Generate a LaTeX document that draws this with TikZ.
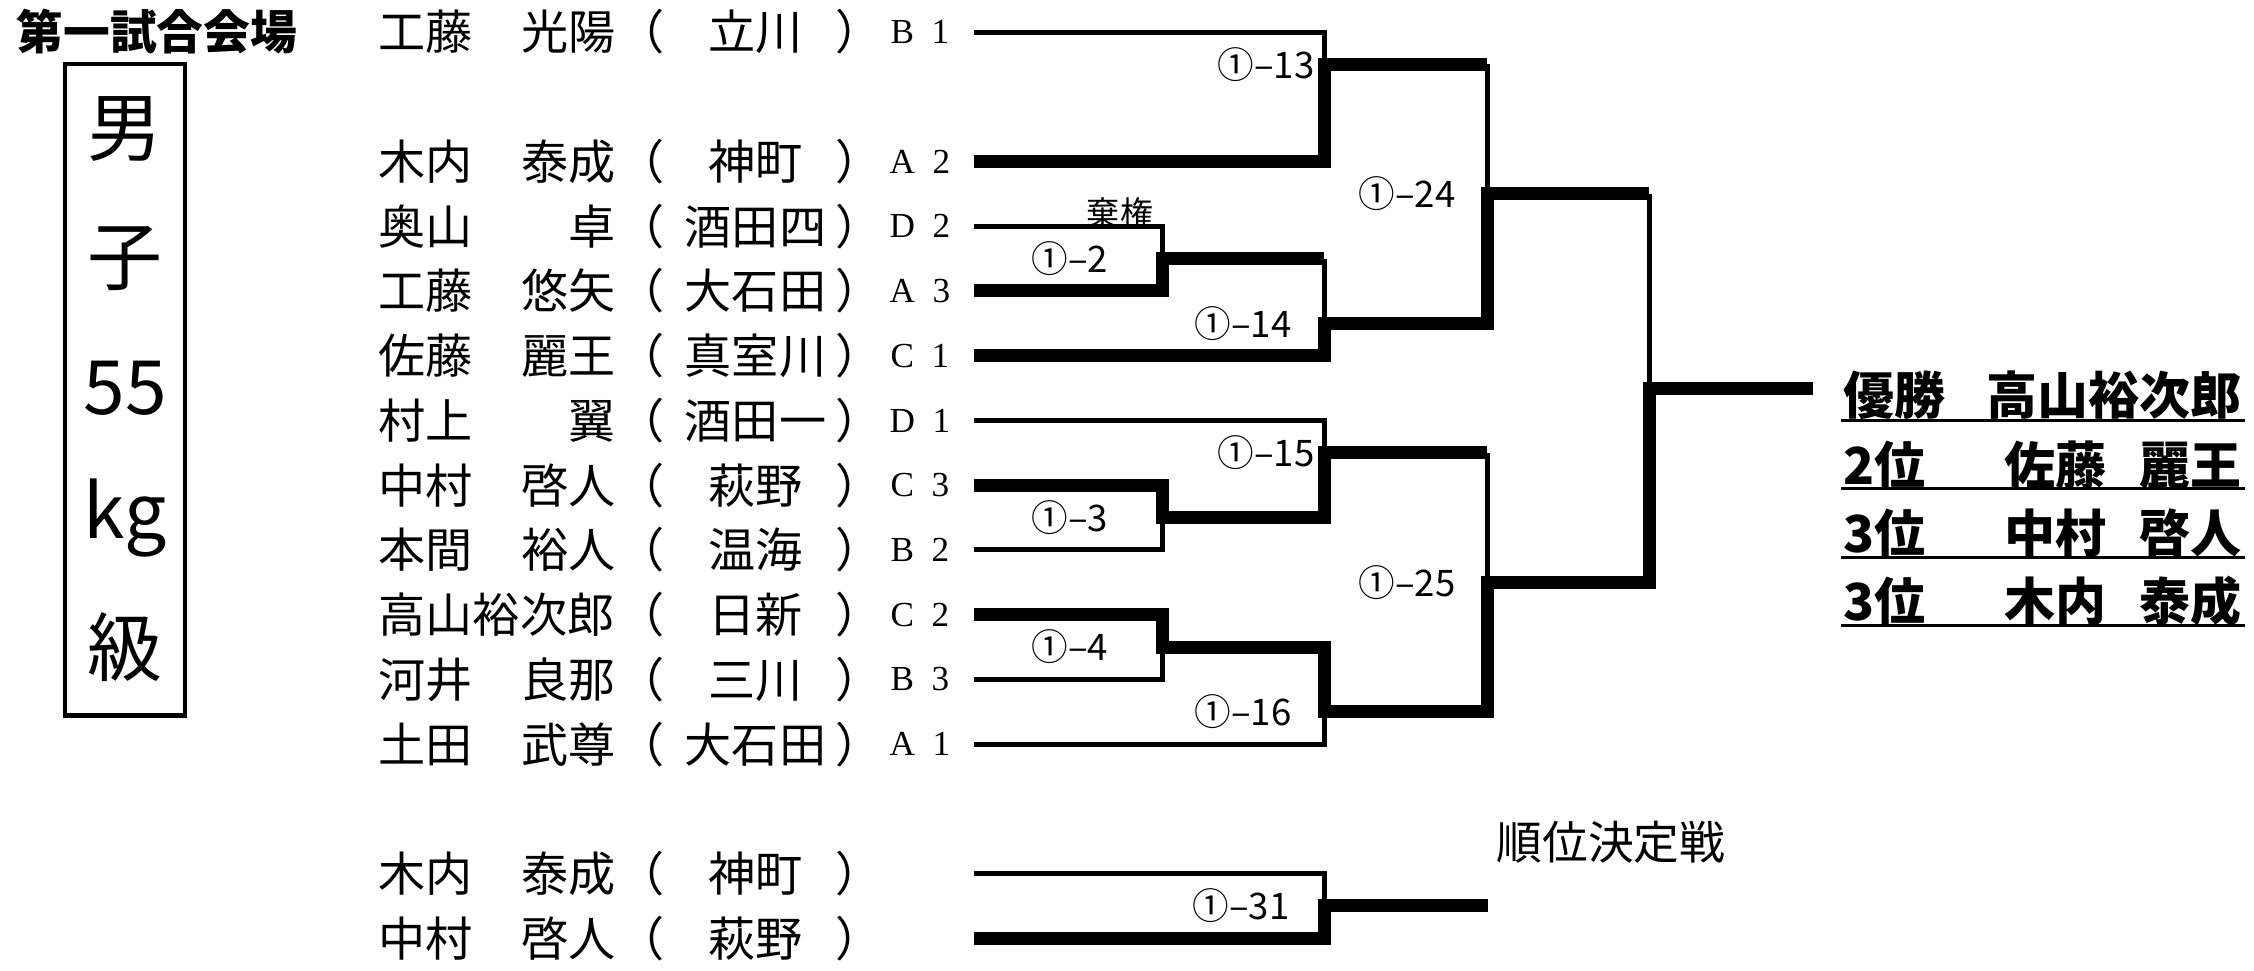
\documentclass[tikz,border=0pt]{standalone}
\usepackage{fontspec}
\setmainfont{Noto Sans CJK JP}
\newfontfamily\seedfont{Liberation Serif}

\begin{document}
\begin{tikzpicture}[x=0.01cm, y=-0.647cm,
  win/.style={line width=0.13cm},
  lose/.style={line width=0.05cm},
  nm/.style={inner sep=0pt, font=\fontsize{13.4pt}{16pt}\selectfont},
  seed/.style={inner sep=0pt, font=\seedfont\fontsize{10pt}{12pt}\selectfont},
  lbl/.style={inner sep=0pt, font=\fontsize{10.4pt}{12pt}\selectfont},
  ttl/.style={inner sep=0pt, font=\bfseries\fontsize{13.3pt}{16pt}\selectfont},
  big/.style={inner sep=0pt, font=\fontsize{21.3pt}{24pt}\selectfont},
  res/.style={inner sep=0pt, font=\bfseries\fontsize{14.5pt}{17pt}\selectfont}]

  \useasboundingbox (0,-0.4946) rectangle (2254,14.498);

  % venue and class
  \node[ttl] (venue) at (157,0) {第一試合会場};
  \draw[line width=0.045cm] (65,0.4946) rectangle (185,10.556);
  \node[big] (cls1) at (125,1.5) {男};
  \node[big] (cls2) at (125,3.5) {子};
  \node[big] (cls3) at (125,5.5) {55};
  \node[big] (cls4) at (125,7.5) {kg};
  \node[big] (cls5) at (125,9.5) {級};

  % entries
  \node[nm, anchor=west] (n1) at (378,0) {\makebox[2.37cm][l]{工藤\hfill 光陽}};
  \node[nm] (s1) at (750,0) {（\hspace{0.11cm}\makebox[1.59cm]{立川}）};
  \node[seed] (k1) at (920,0) {B\enspace 1};
  \node[nm, anchor=west] (n2) at (378,2) {\makebox[2.37cm][l]{木内\hfill 泰成}};
  \node[nm] (s2) at (750,2) {（\hspace{0.11cm}\makebox[1.59cm]{神町}）};
  \node[seed] (k2) at (920,2) {A\enspace 2};
  \node[nm, anchor=west] (n3) at (378,3) {\makebox[2.37cm][l]{奥山\hfill 卓}};
  \node[nm] (s3) at (750,3) {（\hspace{0.11cm}\makebox[1.59cm]{酒田四}）};
  \node[seed] (k3) at (920,3) {D\enspace 2};
  \node[nm, anchor=west] (n4) at (378,4) {\makebox[2.37cm][l]{工藤\hfill 悠矢}};
  \node[nm] (s4) at (750,4) {（\hspace{0.11cm}\makebox[1.59cm]{大石田}）};
  \node[seed] (k4) at (920,4) {A\enspace 3};
  \node[nm, anchor=west] (n5) at (378,5) {\makebox[2.37cm][l]{佐藤\hfill 麗王}};
  \node[nm] (s5) at (750,5) {（\hspace{0.11cm}\makebox[1.59cm]{真室川}）};
  \node[seed] (k5) at (920,5) {C\enspace 1};
  \node[nm, anchor=west] (n6) at (378,6) {\makebox[2.37cm][l]{村上\hfill 翼}};
  \node[nm] (s6) at (750,6) {（\hspace{0.11cm}\makebox[1.59cm]{酒田一}）};
  \node[seed] (k6) at (920,6) {D\enspace 1};
  \node[nm, anchor=west] (n7) at (378,7) {\makebox[2.37cm][l]{中村\hfill 啓人}};
  \node[nm] (s7) at (750,7) {（\hspace{0.11cm}\makebox[1.59cm]{萩野}）};
  \node[seed] (k7) at (920,7) {C\enspace 3};
  \node[nm, anchor=west] (n8) at (378,8) {\makebox[2.37cm][l]{本間\hfill 裕人}};
  \node[nm] (s8) at (750,8) {（\hspace{0.11cm}\makebox[1.59cm]{温海}）};
  \node[seed] (k8) at (920,8) {B\enspace 2};
  \node[nm, anchor=west] (n9) at (378,9) {\makebox[2.37cm][l]{高山裕次郎}};
  \node[nm] (s9) at (750,9) {（\hspace{0.11cm}\makebox[1.59cm]{日新}）};
  \node[seed] (k9) at (920,9) {C\enspace 2};
  \node[nm, anchor=west] (n10) at (378,10) {\makebox[2.37cm][l]{河井\hfill 良那}};
  \node[nm] (s10) at (750,10) {（\hspace{0.11cm}\makebox[1.59cm]{三川}）};
  \node[seed] (k10) at (920,10) {B\enspace 3};
  \node[nm, anchor=west] (n11) at (378,11) {\makebox[2.37cm][l]{土田\hfill 武尊}};
  \node[nm] (s11) at (750,11) {（\hspace{0.11cm}\makebox[1.59cm]{大石田}）};
  \node[seed] (k11) at (920,11) {A\enspace 1};
  \node[nm, anchor=west] (n12) at (378,13) {\makebox[2.37cm][l]{木内\hfill 泰成}};
  \node[nm] (s12) at (750,13) {（\hspace{0.11cm}\makebox[1.59cm]{神町}）};
  \node[nm, anchor=west] (n13) at (378,14) {\makebox[2.37cm][l]{中村\hfill 啓人}};
  \node[nm] (s13) at (750,14) {（\hspace{0.11cm}\makebox[1.59cm]{萩野}）};

  % line starts
  \coordinate (p1) at (974,0);
  \coordinate (p2) at (974,2);
  \coordinate (p3) at (974,3);
  \coordinate (p4) at (974,4);
  \coordinate (p5) at (974,5);
  \coordinate (p6) at (974,6);
  \coordinate (p7) at (974,7);
  \coordinate (p8) at (974,8);
  \coordinate (p9) at (974,9);
  \coordinate (p10) at (974,10);
  \coordinate (p11) at (974,11);
  \coordinate (q1) at (974,13);
  \coordinate (q2) at (974,14);

  % match points
  \coordinate (m2) at (1162,3.5);
  \coordinate (m3) at (1162,7.5);
  \coordinate (m4) at (1162,9.5);
  \coordinate (m13) at (1324,0.5);
  \coordinate (m14) at (1324,4.5);
  \coordinate (m15) at (1324,6.5);
  \coordinate (m16) at (1324,10.5);
  \coordinate (m31) at (1324,13.5);
  \coordinate (m24) at (1487,2.5);
  \coordinate (m25) at (1487,8.5);
  \coordinate (mf) at (1649,5.5);
  \coordinate (champ) at (1813,5.5);
  \coordinate (r31) at (1488,13.5);

  % losers
  \draw[lose] (p1) -| (m13);
  \draw[lose] (p3) -| (m2);
  \draw[lose] (p6) -| (m15);
  \draw[lose] (p8) -| (m3);
  \draw[lose] (p10) -| (m4);
  \draw[lose] (p11) -| (m16);
  \draw[lose] (q1) -| (m31);

  % winners
  \draw[win] (p2) -| (m13) -- (m13 -| m24);
  \draw[lose] (m13 -| m24) -- (m24);
  \draw[win] (p4) -| (m2) -- (m2 -| m14);
  \draw[lose] (m2 -| m14) -- (m14);
  \draw[win] (p5) -| (m14) -| (m24) -- (m24 -| mf);
  \draw[lose] (m24 -| mf) -- (mf);
  \draw[win] (p7) -| (m3) -| (m15) -- (m15 -| m25);
  \draw[lose] (m15 -| m25) -- (m25);
  \draw[win] (p9) -| (m4) -| (m16) -| (m25) -| (mf) -- (champ);
  \draw[win] (q2) -| (m31) -- (r31);

  % match numbers
  \node[lbl, anchor=east] (g13) at (1315,0.5) {①–13};
  \node[lbl] (g24) at (1407,2.5) {①–24};
  \node[inner sep=0pt, font=\fontsize{9.4pt}{11pt}\selectfont] (fft) at (1120,2.8) {棄権};
  \node[lbl] (g2) at (1070,3.5) {①–2};
  \node[lbl, anchor=east] (g14) at (1292,4.5) {①–14};
  \node[lbl, anchor=east] (g15) at (1315,6.5) {①–15};
  \node[lbl] (g3) at (1070,7.5) {①–3};
  \node[lbl] (g25) at (1407,8.5) {①–25};
  \node[lbl] (g4) at (1070,9.5) {①–4};
  \node[lbl, anchor=east] (g16) at (1292,10.5) {①–16};
  \node[lbl, anchor=east] (g31) at (1290,13.5) {①–31};
  \node[inner sep=0pt, anchor=west, font=\fontsize{13pt}{16pt}\selectfont] (pl) at (1496,12.52) {順位決定戦};

  % results
  \node[res, anchor=west] (w1) at (1843,5.61) {優勝};
  \node[res, anchor=east] (w1n) at (2242,5.61) {高山裕次郎};
  \node[res, anchor=west] (w2) at (1843,6.69) {2位};
  \node[res, anchor=east] (w2n) at (2242,6.69) {佐藤\hspace{0.33cm}麗王};
  \node[res, anchor=west] (w3) at (1843,7.74) {3位};
  \node[res, anchor=east] (w3n) at (2242,7.74) {中村\hspace{0.33cm}啓人};
  \node[res, anchor=west] (w4) at (1843,8.79) {3位};
  \node[res, anchor=east] (w4n) at (2242,8.79) {木内\hspace{0.33cm}泰成};
  \draw[line width=0.03cm] (1841,6.0) -- (2245,6.0);
  \draw[line width=0.03cm] (1841,7.05) -- (2245,7.05);
  \draw[line width=0.03cm] (1841,8.11) -- (2245,8.11);
  \draw[line width=0.03cm] (1841,9.17) -- (2245,9.17);

\end{tikzpicture}
\end{document}
